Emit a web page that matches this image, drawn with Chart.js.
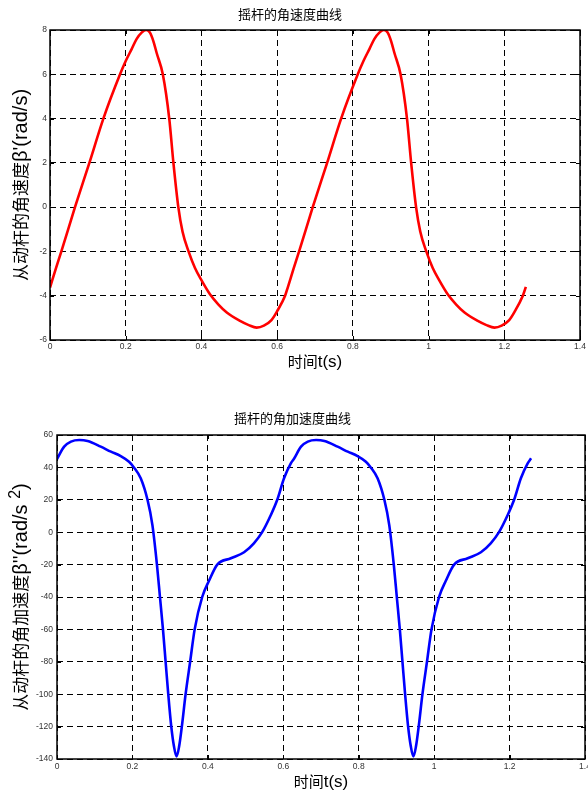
<!DOCTYPE html>
<html>
<head>
<meta charset="utf-8">
<script src="https://cdn.jsdelivr.net/npm/chart.js@4.4.1/dist/chart.umd.min.js"></script>
<style>
  html, body { margin: 0; padding: 0; background: #fff; }
  .box { position: relative; width: 588px; }
  #velBox { height: 390px; }
  #accBox { height: 405px; }
</style>
</head>
<body>
<div class="box" id="velBox"><canvas id="velChart"></canvas></div>
<div class="box" id="accBox"><canvas id="accChart"></canvas></div>
<script>
// rocker angular velocity (rad/s)
const velTime = [
    0.000, 0.015, 0.030, 0.066, 0.104, 0.141, 0.185, 0.200, 0.216, 0.229, 0.242,
    0.254, 0.264, 0.273, 0.282, 0.298, 0.315, 0.326, 0.339, 0.350, 0.366, 0.383,
    0.400, 0.423, 0.445, 0.467, 0.502, 0.525, 0.546, 0.565, 0.585, 0.600, 0.621,
    0.628, 0.643, 0.658, 0.694, 0.732, 0.769, 0.813, 0.828, 0.844, 0.857, 0.870,
    0.882, 0.892, 0.901, 0.910, 0.926, 0.943, 0.954, 0.967, 0.978, 0.994, 1.011,
    1.028, 1.051, 1.073, 1.095, 1.130, 1.153, 1.174, 1.193, 1.213, 1.228, 1.249, 1.257
];
const velValue = [
    -3.63, -2.8, -2.0, 0.0, 2.0, 4.0, 6.0, 6.6, 7.15, 7.6, 7.88,
    8.0, 7.88, 7.5, 6.95, 6.0, 4.0, 2.0, 0.0, -1.1, -2.0, -2.75,
    -3.3, -3.95, -4.4, -4.76, -5.14, -5.33, -5.44, -5.35, -5.1, -4.7, -4.0,
    -3.63, -2.8, -2.0, 0.0, 2.0, 4.0, 6.0, 6.6, 7.15, 7.6, 7.88,
    8.0, 7.88, 7.5, 6.95, 6.0, 4.0, 2.0, 0.0, -1.1, -2.0, -2.75,
    -3.3, -3.95, -4.4, -4.76, -5.14, -5.33, -5.44, -5.35, -5.1, -4.7, -4.0, -3.6
];

// rocker angular acceleration (rad/s^2)
const accTime = [
    0.000, 0.019, 0.037, 0.059, 0.081, 0.116, 0.143, 0.169, 0.191, 0.204, 0.222,
    0.240, 0.253, 0.265, 0.273, 0.281, 0.288, 0.295, 0.303, 0.310, 0.317, 0.324,
    0.331, 0.341, 0.353, 0.365, 0.385, 0.403, 0.425, 0.461, 0.496, 0.522, 0.544,
    0.567, 0.584, 0.602, 0.620,
    0.628, 0.647, 0.665, 0.687, 0.709, 0.744, 0.771, 0.797, 0.819, 0.832, 0.850,
    0.868, 0.881, 0.893, 0.901, 0.909, 0.916, 0.923, 0.931, 0.938, 0.945, 0.952,
    0.959, 0.969, 0.981, 0.993, 1.013, 1.031, 1.053, 1.089, 1.124, 1.150, 1.172,
    1.195, 1.212, 1.230, 1.248, 1.257
];
const accValue = [
    45.2, 52.8, 55.9, 56.9, 56.3, 52.8, 49.7, 47.0, 43.5, 40.0, 33.3,
    20.0, 4.4, -20, -40, -60, -80, -100, -120, -132, -138.5, -132,
    -120, -100, -80, -60, -40, -30, -20, -16.1, -12.4, -6.9, 0,
    10.6, 20, 33.3, 42.5,
    45.2, 52.8, 55.9, 56.9, 56.3, 52.8, 49.7, 47.0, 43.5, 40.0, 33.3,
    20.0, 4.4, -20, -40, -60, -80, -100, -120, -132, -138.5, -132,
    -120, -100, -80, -60, -40, -30, -20, -16.1, -12.4, -6.9, 0,
    10.6, 20, 33.3, 42.5, 45.6
];

const timeTicks = [0, 0.2, 0.4, 0.6, 0.8, 1, 1.2, 1.4];
const velTicks = [-6, -4, -2, 0, 2, 4, 6, 8];
const accTicks = [-140, -120, -100, -80, -60, -40, -20, 0, 20, 40, 60];

const CJK = "'Noto Sans CJK SC', sans-serif";
const LAT = "'Liberation Sans', Arial, sans-serif";
const tickFont = { family: LAT, size: 8.5 };

// draw a label made of runs with different fonts, centred on (x, y)
function drawRuns(ctx, runs, x, y, vertical) {
    ctx.save();
    ctx.translate(x, y);
    if (vertical) ctx.rotate(-Math.PI / 2);
    ctx.fillStyle = '#000';
    ctx.textAlign = 'left';
    ctx.textBaseline = 'alphabetic';
    let total = 0;
    runs.forEach(r => { ctx.font = r.font; total += ctx.measureText(r.text).width; });
    let pos = -total / 2;
    runs.forEach(r => {
        ctx.font = r.font;
        ctx.fillText(r.text, pos, 6 - (r.rise || 0));
        pos += ctx.measureText(r.text).width;
    });
    ctx.restore();
}

// MATLAB style box, inward ticks and axis labels
const framePlugin = {
    id: 'frame',
    afterDraw(chart, args, opts) {
        const { ctx, chartArea: a, scales } = chart;
        ctx.save();
        ctx.strokeStyle = '#000';
        ctx.lineWidth = 1;
        ctx.beginPath();
        scales.x.ticks.forEach(t => {
            const px = Math.round(scales.x.getPixelForValue(t.value)) + 0.5;
            ctx.moveTo(px, a.bottom); ctx.lineTo(px, a.bottom - 4);
            ctx.moveTo(px, a.top); ctx.lineTo(px, a.top + 4);
        });
        scales.y.ticks.forEach(t => {
            const py = Math.round(scales.y.getPixelForValue(t.value)) + 0.5;
            ctx.moveTo(a.left, py); ctx.lineTo(a.left + 4, py);
            ctx.moveTo(a.right, py); ctx.lineTo(a.right - 4, py);
        });
        ctx.stroke();
        ctx.lineWidth = 1.5;
        ctx.strokeRect(a.left, a.top, a.right - a.left, a.bottom - a.top);
        ctx.restore();

        const cx = (a.left + a.right) / 2;
        const cy = (a.top + a.bottom) / 2;
        drawRuns(ctx, opts.xRuns, cx, opts.xTitleY, false);
        drawRuns(ctx, opts.yRuns, opts.yTitleX, cy, true);
    }
};

function makeChart(id, cfg) {
    const points = cfg.time.map((t, i) => ({ x: t, y: cfg.values[i] }));
    return new Chart(document.getElementById(id), {
        type: 'line',
        data: {
            datasets: [{
                data: points,
                borderColor: cfg.color,
                borderWidth: 2.6,
                pointRadius: 0,
                fill: false,
                cubicInterpolationMode: 'monotone'
            }]
        },
        options: {
            responsive: true,
            maintainAspectRatio: false,
            animation: false,
            events: [],
            layout: { padding: { left: 0, right: cfg.padRight, top: 0, bottom: 0 } },
            plugins: {
                legend: { display: false },
                tooltip: { enabled: false },
                title: {
                    display: true,
                    text: cfg.title,
                    color: '#000',
                    font: { family: CJK, size: 13, weight: 'normal' },
                    padding: cfg.titlePad
                },
                frame: {
                    xRuns: cfg.xRuns,
                    yRuns: cfg.yRuns,
                    xTitleY: cfg.xTitleY,
                    yTitleX: cfg.yTitleX
                }
            },
            scales: {
                x: {
                    type: 'linear',
                    min: 0,
                    max: 1.4,
                    afterBuildTicks: s => { s.ticks = timeTicks.map(v => ({ value: v })); },
                    afterFit: s => { s.height = cfg.xHeight; s.paddingLeft = 0; s.paddingRight = 0; },
                    ticks: { font: tickFont, color: '#333', padding: cfg.xTickPad, maxRotation: 0, callback: v => String(v) },
                    grid: { color: '#000', lineWidth: 1, drawTicks: false },
                    border: { display: false, dash: [6, 4] }
                },
                y: {
                    type: 'linear',
                    min: cfg.yTicks[0],
                    max: cfg.yTicks[cfg.yTicks.length - 1],
                    afterBuildTicks: s => { s.ticks = cfg.yTicks.map(v => ({ value: v })); },
                    afterFit: s => { s.width = cfg.yWidth; s.paddingTop = 0; s.paddingBottom = 0; },
                    ticks: { font: tickFont, color: '#333', padding: cfg.yTickPad, callback: v => String(v) },
                    grid: { color: '#000', lineWidth: 1, drawTicks: false },
                    border: { display: false, dash: [6, 4] }
                }
            }
        },
        plugins: [framePlugin]
    });
}

makeChart('velChart', {
    time: velTime,
    values: velValue,
    yTicks: velTicks,
    color: '#ff0000',
    title: '摇杆的角速度曲线',
    titlePad: { top: 6, bottom: 8.4 },
    padRight: 8,
    xHeight: 50,
    yWidth: 50,
    xTickPad: 2,
    yTickPad: 3,
    xTitleY: 361,
    yTitleX: 21,
    xRuns: [
        { text: '时间', font: '15px ' + CJK },
        { text: 't(s)', font: '17px ' + LAT }
    ],
    yRuns: [
        { text: '从动杆的角速度', font: '17px ' + CJK },
        { text: "β'(rad/s)", font: '20px ' + LAT }
    ]
});

makeChart('accChart', {
    time: accTime,
    values: accValue,
    yTicks: accTicks,
    color: '#0000ff',
    title: '摇杆的角加速度曲线',
    titlePad: { top: 20.2, bottom: 9.2 },
    padRight: 3,
    xHeight: 36,
    yWidth: 57,
    xTickPad: 3,
    yTickPad: 4,
    xTitleY: 391,
    yTitleX: 21,
    xRuns: [
        { text: '时间', font: '15px ' + CJK },
        { text: 't(s)', font: '17px ' + LAT }
    ],
    yRuns: [
        { text: '从动杆的角加速度', font: '17px ' + CJK },
        { text: "β''(rad/s ", font: '20px ' + LAT },
        { text: '2', font: '16px ' + LAT, rise: 7 },
        { text: ')', font: '20px ' + LAT }
    ]
});
</script>
</body>
</html>
